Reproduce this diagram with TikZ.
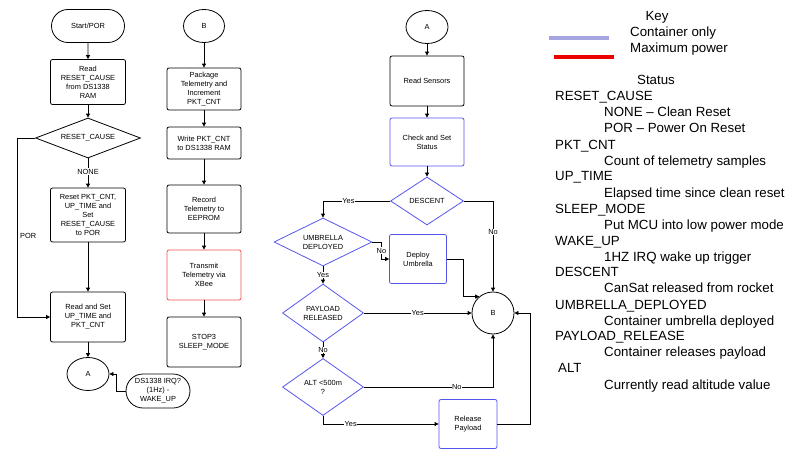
\documentclass[tikz,border=0pt]{standalone}
\usepackage{fontspec}
\setmainfont{Liberation Sans}
\usetikzlibrary{shapes.geometric,shapes.misc,arrows.meta}
\definecolor{bluebox}{RGB}{85,85,235}
\definecolor{redbox}{RGB}{240,80,80}
\definecolor{keyblue}{RGB}{165,165,225}
\definecolor{keyred}{RGB}{235,0,0}
\begin{document}
\begin{tikzpicture}[x=1pt,y=-1pt,
  every node/.style={font=\fontsize{7.4}{9}\selectfont, align=center},
  box/.style={draw, rounded corners=2pt, line width=0.8pt, inner sep=1pt},
  bbox/.style={box, draw=bluebox},
  rbox/.style={box, draw=redbox},
  dia/.style={draw, diamond, shape aspect=2, inner sep=0pt, line width=0.8pt},
  bdia/.style={dia, draw=bluebox},
  stad/.style={draw, rounded rectangle, inner sep=1pt, line width=0.8pt},
  conn/.style={draw, ellipse, inner sep=0pt, line width=0.8pt},
  arr/.style={draw, line width=0.8pt, -{Triangle[length=4pt,width=4pt]}},
  lbl/.style={fill=white, inner sep=0.5pt},
  keytxt/.style={font=\fontsize{13.3}{16}\selectfont, anchor=west, inner sep=0pt, text height=9.5pt, text depth=2.8pt},
  keyline/.style={line width=4.5pt}
]
\useasboundingbox (0,0) rectangle (788,455);

% ---------- column 1 ----------
\node[stad, minimum width=75pt, minimum height=33pt] (start) at (88,26) {Start/POR};
\node[box, minimum width=75pt, minimum height=45pt] (read) at (88,82) {Read\\RESET\_CAUSE\\from DS1338\\RAM};
\node[dia, minimum width=105pt, minimum height=40pt] (rc) at (88,138) {RESET\_CAUSE};
\node[box, minimum width=75pt, minimum height=54pt] (reset) at (88,215) {Reset PKT\_CNT,\\UP\_TIME and\\Set\\RESET\_CAUSE\\to POR};
\node[box, minimum width=75pt, minimum height=50pt] (rs) at (88,317) {Read and Set\\UP\_TIME and\\PKT\_CNT};
\node[conn, minimum width=42pt, minimum height=33pt] (A1) at (88,374) {A};
\node[stad, minimum width=66pt, minimum height=34pt] (irq) at (158,391) {DS1338 IRQ?\\(1Hz) -\\WAKE\_UP};

\draw[arr] (start) -- (read);
\draw[arr] (read) -- (rc);
\draw[arr] (rc) -- node[lbl, pos=0.45]{NONE} (reset);
\draw[arr] (reset) -- (rs);
\draw[arr] (rc.west) -- ++(-18,0) |- (rs.west);
\node[anchor=west, inner sep=0pt] (porlbl) at (20,236) {POR};
\draw[arr] (rs) -- (A1);
\draw[arr] (irq.west) -- ++(-9,0) |- (A1.east);

% ---------- column 2 ----------
\node[conn, minimum width=41pt, minimum height=33pt] (B2) at (204,26) {B};
\node[box, minimum width=74pt, minimum height=42pt] (pkg) at (204,89) {Package\\Telemetry and\\Increment\\PKT\_CNT};
\node[box, minimum width=74pt, minimum height=32pt] (write) at (204,143) {Write PKT\_CNT\\to DS1338 RAM};
\node[box, minimum width=74pt, minimum height=48pt] (record) at (204,209) {Record\\Telemetry to\\EEPROM};
\node[rbox, minimum width=74pt, minimum height=50pt] (tx) at (204,275) {Transmit\\Telemetry via\\XBee};
\node[box, minimum width=74pt, minimum height=50pt] (stop) at (204,342) {STOP3\\SLEEP\_MODE};

\draw[arr] (B2) -- (pkg);
\draw[arr] (pkg) -- (write);
\draw[arr] (write) -- (record);
\draw[arr] (record) -- (tx);
\draw[arr] (tx) -- (stop);

% ---------- column 3 ----------
\node[conn, minimum width=42pt, minimum height=33pt] (A3) at (427,27) {A};
\node[box, minimum width=74pt, minimum height=50pt] (sensors) at (427,81) {Read Sensors};
\node[bbox, minimum width=74pt, minimum height=48pt] (check) at (427,142) {Check and Set\\Status};
\node[bdia, minimum width=73pt, minimum height=48pt] (descent) at (427,201) {DESCENT};
\node[bdia, minimum width=98pt, minimum height=48pt] (umb) at (323,242) {UMBRELLA\\DEPLOYED};
\node[bbox, minimum width=57pt, minimum height=49pt] (deploy) at (418,259) {Deploy\\Umbrella};
\node[bdia, minimum width=81pt, minimum height=58pt] (pay) at (323,313) {PAYLOAD\\RELEASED};
\node[draw, circle, minimum size=42pt, inner sep=0pt, line width=0.8pt] (B3) at (493,313) {B};
\node[bdia, minimum width=81pt, minimum height=57pt] (alt) at (323,387) {ALT <500m\\?};
\node[bbox, minimum width=58pt, minimum height=49pt] (rel) at (468,424) {Release\\Payload};

\draw[arr] (A3) -- (sensors);
\draw[arr] (sensors) -- (check);
\draw[arr] (check) -- (descent);
\draw[arr] (descent.west) -| node[lbl, pos=0.31]{Yes} (umb.north);
\draw[arr] (descent.east) -| node[lbl, pos=0.67]{No} (B3.north);
\draw[arr] (umb.east) -- ++(9,0) |- node[lbl, pos=0.25]{No} (deploy.west);
\draw[arr] (deploy.east) -- ++(16,0) |- (B3.130);
\draw[arr] (umb.south) -- node[lbl]{Yes} (pay.north);
\draw[arr] (pay.east) -- node[lbl]{Yes} (B3.west);
\draw[arr] (pay.south) -- node[lbl]{No} (alt.north);
\draw[arr] (alt.east) -| node[lbl, pos=0.36]{No} (B3.south);
\draw[arr] (alt.south) |- node[lbl, pos=0.62]{Yes} (rel.west);
\draw[arr] (rel.east) -- ++(33,0) |- (B3.east);

% ---------- key ----------
\node[keytxt, anchor=center] (key) at (657,17) {Key};
\draw[keyline, keyblue] (549,38) -- (609,38);
\node[keytxt] (kc) at (630,33) {Container only};
\draw[keyline, keyred] (554,57) -- (614,57);
\node[keytxt] (km) at (630,49) {Maximum power};
\node[keytxt, anchor=center] (st) at (656,81) {Status};
\node[keytxt] at (555,97) {RESET\_CAUSE};
\node[keytxt] at (604,113) {NONE – Clean Reset};
\node[keytxt] at (604,129) {POR – Power On Reset};
\node[keytxt] at (555,146) {PKT\_CNT};
\node[keytxt] at (604,162) {Count of telemetry samples};
\node[keytxt] at (555,177) {UP\_TIME};
\node[keytxt] at (604,194) {Elapsed time since clean reset};
\node[keytxt] at (555,210) {SLEEP\_MODE};
\node[keytxt] at (604,226) {Put MCU into low power mode};
\node[keytxt] at (555,242) {WAKE\_UP};
\node[keytxt] at (604,258) {1HZ IRQ wake up trigger};
\node[keytxt] at (555,273) {DESCENT};
\node[keytxt] at (604,289) {CanSat released from rocket};
\node[keytxt] at (555,306) {UMBRELLA\_DEPLOYED};
\node[keytxt] at (604,322) {Container umbrella deployed};
\node[keytxt] at (555,337) {PAYLOAD\_RELEASE};
\node[keytxt] at (604,353) {Container releases payload};
\node[keytxt] at (558,369) {ALT};
\node[keytxt] at (604,386) {Currently read altitude value};
\end{tikzpicture}
\end{document}
